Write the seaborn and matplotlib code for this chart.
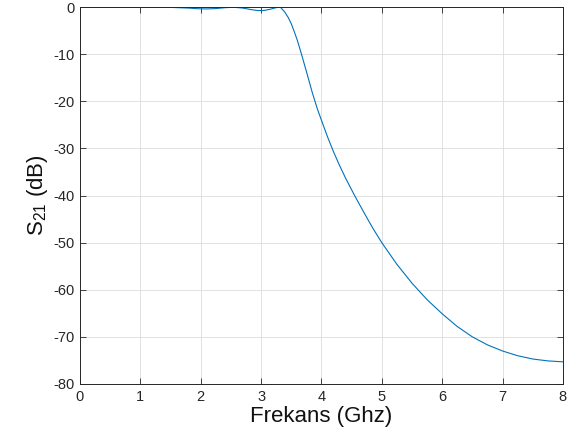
import numpy as np
import pandas as pd
import matplotlib
matplotlib.use("Agg")
import matplotlib.pyplot as plt
import seaborn as sns

# values
freq = [0.0, 0.5, 1.0, 1.5, 1.8, 1.95, 2.1, 2.25, 2.4, 2.55, 2.7, 2.85, 2.95, 3.05, 3.15,
        3.25, 3.32, 3.39, 3.45, 3.5, 3.55, 3.6, 3.67, 3.75, 3.85, 3.93, 4.0, 4.1, 4.2,
        4.3, 4.4, 4.55, 4.7, 4.85, 5.0, 5.25, 5.5, 5.75, 6.0, 6.25, 6.5, 6.75, 7.0,
        7.25, 7.5, 7.75, 8.0]
s21 = [0.0, 0.0, 0.0, -0.05, -0.2, -0.33, -0.38, -0.3, -0.12, -0.02, -0.2, -0.55, -0.72, -0.7,
       -0.45, -0.1, 0.0, -1.0, -2.2, -3.5, -5.2, -7.0, -10.0, -13.6, -18.2, -21.5, -24.0, -27.5,
       -30.7, -33.6, -36.3, -40.0, -43.5, -46.9, -50.0, -54.6, -58.6, -62.1, -65.1, -67.8, -70.0,
       -71.7, -73.0, -74.0, -74.7, -75.1, -75.3]

df = pd.DataFrame({"freq": freq, "s21": s21})

sns.set_style("ticks")
plt.rcParams["font.family"] = ["Liberation Sans", "DejaVu Sans"]
plt.rcParams["mathtext.fontset"] = "custom"
plt.rcParams["mathtext.rm"] = "Liberation Sans"
plt.rcParams["mathtext.it"] = "Liberation Sans"
plt.rcParams["axes.unicode_minus"] = False

fig = plt.figure(figsize=(5.75, 4.47), dpi=100)
ax = fig.add_axes([0.139, 0.141, 0.840, 0.843])

sns.lineplot(data=df, x="freq", y="s21", ax=ax, color="#0072BD", linewidth=0.8)

ax.set_xlim(0, 8)
ax.set_ylim(-80, 0)
ax.set_xticks(np.arange(0, 9, 1))
ax.set_yticks(np.arange(-80, 1, 10))
ax.grid(True, color="#dcdcdc", linewidth=0.6)
ax.set_axisbelow(True)
for s in ax.spines.values():
    s.set_color("#262626")
    s.set_linewidth(0.7)
ax.tick_params(direction="in", top=True, right=True, length=4, width=0.6,
               colors="#262626", labelsize=10.5, pad=4)
ax.set_xlabel("Frekans (Ghz)", fontsize=16, color="#111111", labelpad=2)
ax.set_ylabel("S$_{21}$ (dB)", fontsize=16, color="#111111", labelpad=2)

fig.savefig("out.png", dpi=100)
